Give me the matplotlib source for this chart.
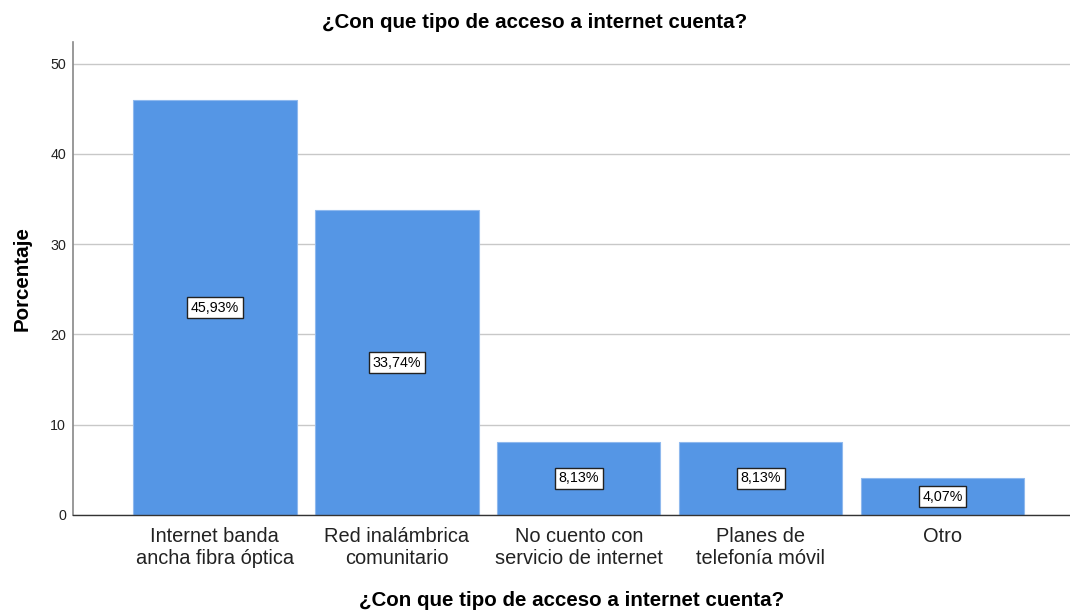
import matplotlib
matplotlib.use("Agg")
import matplotlib.pyplot as plt

categories = ["Internet banda\nancha fibra óptica", "Red inalámbrica\ncomunitario",
              "No cuento con\nservicio de internet", "Planes de\ntelefonía móvil", "Otro"]
values = [45.93, 33.74, 8.13, 8.13, 4.07]
labels = ["45,93%", "33,74%", "8,13%", "8,13%", "4,07%"]
yticks = [0, 10, 20, 30, 40, 50]
title = "¿Con que tipo de acceso a internet cuenta?"

plt.rcParams['font.family'] = ['Liberation Sans', 'DejaVu Sans']

fig = plt.figure(figsize=(10.7, 6.1), dpi=100)
ax = fig.add_axes([73/1070, 1-515/610, 1-73/1070, (515-42)/610])

x = list(range(len(categories)))
ax.bar(x, values, width=0.898, color="#5596E5", edgecolor="#8fb9ee", linewidth=0.8, zorder=2)
for xi, v, lab in zip(x, values, labels):
    ax.text(xi, v/2, lab, ha="center", va="center", fontsize=10.3, zorder=3,
            bbox=dict(boxstyle="square,pad=0.25", facecolor="white", edgecolor="#222222", linewidth=1))

ax.set_xlim(-0.78, 4.70)
ax.set_ylim(0, 52.4)
ax.set_yticks(yticks)
ax.set_yticklabels([str(t) for t in yticks], fontsize=10.3, color="#222222")
ax.set_xticks(x)
ax.set_xticklabels(categories, fontsize=14.4, linespacing=1.14, color="#222222")
ax.tick_params(axis="both", length=0)
ax.tick_params(axis="x", pad=9)
ax.tick_params(axis="y", pad=5)
ax.yaxis.grid(True, color="#c8c8c8", linewidth=1, zorder=0)
ax.set_axisbelow(True)
for s in ["top", "right"]:
    ax.spines[s].set_visible(False)
ax.spines["left"].set_color("#888888")
ax.spines["left"].set_linewidth(1.2)
ax.spines["bottom"].set_color("#333333")
ax.spines["bottom"].set_linewidth(1)

ax.set_ylabel("Porcentaje", fontsize=14.8, fontweight="bold", va="center")
ax.yaxis.set_label_coords((22-73)/997, 0.5)
ax.set_xlabel(title, fontsize=14.8, fontweight="bold", va="center")
ax.xaxis.set_label_coords(0.5, (515-600)/473)
fig.text(0.5, 1-22/610, title, ha="center", va="center", fontsize=14.8, fontweight="bold")

fig.savefig("out.png", dpi=100)
